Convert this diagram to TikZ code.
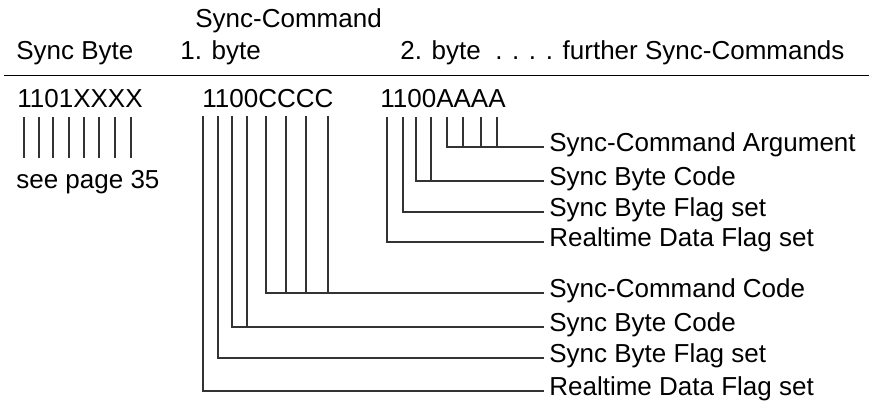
\documentclass[tikz,border=0pt]{standalone}
\usepackage{fontspec}
\setmainfont{Liberation Sans}

\begin{document}
\begin{tikzpicture}[x=0.02cm, y=-0.02cm,
  every node/.style={font=\fontsize{14.8pt}{17pt}\selectfont, inner sep=0pt,
    text height=0.72em, text depth=0.21em},
  head/.style={anchor=base west},
  lbl/.style={anchor=west, inner xsep=0.1cm},
  bitline/.style={line width=0.6pt, black!80}]
\useasboundingbox (0,0) rectangle (869,404);

% Header
\node[head] (cmd) at (195,28) {Sync-Command};
\node[head] (syncbyte) at (16,60) {Sync Byte};
\node[head] (byteone) at (180,60) {1. byte};
\node[head] (bytetwo) at (400,60) {2. byte\ \ . . . . further Sync-Commands};
\draw[line width=0.8pt] (4,75.5) -- (869,75.5);

% Bit patterns
\node[head] (patx) at (17,108) {1101XXXX};
\node[head] (patc) at (202,108) {1100CCCC};
\node[head] (pata) at (380,108) {1100AAAA};
\node[head] (seepage) at (16,189) {see page 35};

% Bit positions
\foreach \x [count=\i] in {24,39,53,69,84,99,115,131}
  \coordinate (x\i) at (\x,117);
\foreach \x [count=\i] in {203,218,232,247,266,286,306,328}
  \coordinate (c\i) at (\x,116);
\foreach \x [count=\i] in {387,403,416,431,447,463,481,497}
  \coordinate (a\i) at (\x,117);

% Labels of the 2. byte
\node[lbl] (argA) at (544,147) {Sync-Command Argument};
\node[lbl] (codeA) at (544,181) {Sync Byte Code};
\node[lbl] (flagA) at (544,212) {Sync Byte Flag set};
\node[lbl] (rtA) at (544,242) {Realtime Data Flag set};

% Labels of the 1. byte
\node[lbl] (cmdC) at (544,293) {Sync-Command Code};
\node[lbl] (codeC) at (544,327) {Sync Byte Code};
\node[lbl] (flagC) at (544,358) {Sync Byte Flag set};
\node[lbl] (rtC) at (544,391) {Realtime Data Flag set};

% Ticks under the sync byte
\foreach \i in {1,...,8}
  \draw[bitline] (x\i) -- ++(0,41);

% Connectors of the 1. byte
\foreach \i in {5,...,8}
  \draw[bitline] (c\i) |- (cmdC.west);
\foreach \i in {3,4}
  \draw[bitline] (c\i) |- (codeC.west);
\draw[bitline] (c2) |- (flagC.west);
\draw[bitline] (c1) |- (rtC.west);

% Connectors of the 2. byte
\foreach \i in {5,...,8}
  \draw[bitline] (a\i) |- (argA.west);
\foreach \i in {3,4}
  \draw[bitline] (a\i) |- (codeA.west);
\draw[bitline] (a2) |- (flagA.west);
\draw[bitline] (a1) |- (rtA.west);

\end{tikzpicture}
\end{document}
